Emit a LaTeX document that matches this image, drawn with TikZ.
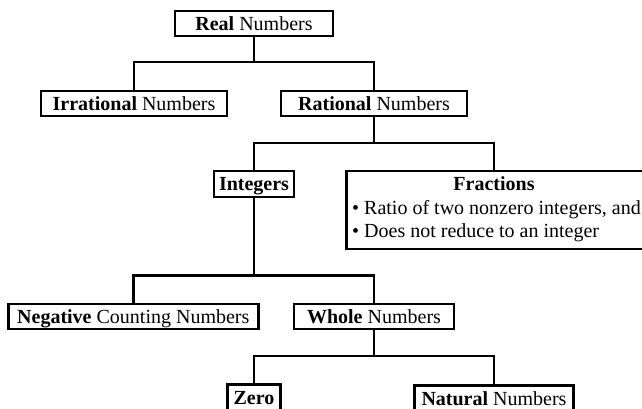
\documentclass[tikz,border=0pt]{standalone}
\usepackage{fontspec}
\setmainfont{Liberation Serif}
\begin{document}
\begin{tikzpicture}[x=1pt,y=-1pt,
  box/.style={draw, line width=2.4pt, inner sep=0pt, minimum height=25pt,
    text height=13.5pt, text depth=0pt, font=\fontsize{20}{23}\selectfont},
  txt/.style={inner sep=0pt, font=\fontsize{20}{23}\selectfont},
  conn/.style={line width=2.4pt}]
\useasboundingbox (0,0) rectangle (642,409);
\clip (0,0) rectangle (642,409);
% row 1
\node[box, minimum width=158pt] (real) at (254,23.4) {\textbf{Real} Numbers};
% row 2
\node[box, minimum width=186pt] (irr) at (134,103.8) {\textbf{Irrational} Numbers};
\node[box, minimum width=186pt] (rat) at (374,103.8) {\textbf{Rational} Numbers};
% row 3
\node[box, minimum width=80pt, minimum height=26pt] (int) at (254,184.2) {\textbf{Integers}};
\node[box, minimum width=306pt, minimum height=78pt, anchor=west] (frac) at (345.2,210.2) {};
\coordinate (fractop) at (494,170);
\node[txt, anchor=base] (fract) at (494,190.5) {\textbf{Fractions}};
\node[txt, anchor=base west] (fr1) at (352,214) {\textbullet\ Ratio of two nonzero integers, and};
\node[txt, anchor=base west] (fr2) at (352,237.3) {\textbullet\ Does not reduce to an integer};
% row 4
\node[box, minimum width=250pt] (neg) at (133.3,316.7) {\textbf{Negative} Counting Numbers};
\node[box, minimum width=160pt] (whole) at (374,316.5) {\textbf{Whole} Numbers};
% row 5
\node[box, minimum width=53pt, minimum height=26pt] (zero) at (254,397.5) {\textbf{Zero}};
\node[box, minimum width=159pt, minimum height=26pt] (nat) at (494,398.5) {\textbf{Natural} Numbers};
% connectors
\coordinate (b1) at (254,62);
\coordinate (b2) at (374,143);
\coordinate (b3) at (254,275.3);
\coordinate (b4) at (374,356);
\draw[conn] (real.south) -- (b1);
\draw[conn] (irr.north) |- (b1) -| (rat.north);
\draw[conn] (rat.south) -- (b2);
\draw[conn] (int.north) |- (b2) -| (fractop);
\draw[conn] (int.south) -- (b3);
\draw[conn] (neg.north) |- (b3) -| (whole.north);
\draw[conn] (whole.south) -- (b4);
\draw[conn] (zero.north) |- (b4) -| (nat.north);
\end{tikzpicture}
\end{document}
